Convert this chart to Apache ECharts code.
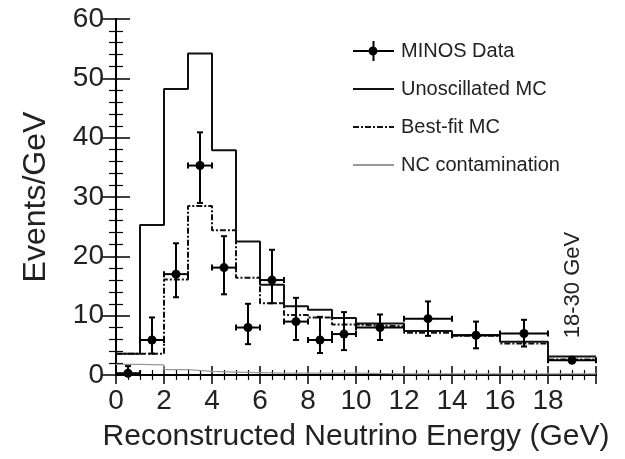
<!DOCTYPE html>
<html>
<head>
<meta charset="utf-8">
<script src="https://cdn.jsdelivr.net/npm/echarts@6/dist/echarts.min.js"></script>
<style>
html,body{margin:0;padding:0;background:#fff;}
#chart{width:625px;height:459px;}
</style>
</head>
<body>
<div id="chart"></div>
<script>
// ---- data ----
var binEdges = [0, 1, 2, 3, 4, 5, 6, 7, 8, 9, 10, 12, 14, 16, 18, 20];
var unoscillatedMC = [3.6, 25.3, 48.2, 54.2, 37.9, 22.5, 15.2, 11.6, 11.0, 9.6, 8.7, 7.4, 6.7, 5.6, 3.1];
var bestFitMC = [3.6, 3.6, 16.1, 28.5, 24.4, 16.4, 12.1, 10.1, 9.7, 8.5, 8.2, 7.1, 6.6, 5.3, 2.6];
var ncContamination = [1.8, 1.7, 0.9, 0.6, 0.5, 0.4, 0.3, 0.3, 0.3, 0.3, 0.2, 0.2, 0.2, 0.2, 0.2];

var dataX = [0.5, 1.5, 2.5, 3.5, 4.5, 5.5, 6.5, 7.5, 8.5, 9.5, 11, 13, 15, 17, 19];
var dataXErr = [0.5, 0.5, 0.5, 0.5, 0.5, 0.5, 0.5, 0.5, 0.5, 0.5, 1, 1, 1, 1, 1];
var dataY = [0.3, 5.9, 17.0, 35.3, 18.1, 8.0, 16.0, 9.0, 5.9, 6.9, 8.0, 9.5, 6.7, 7.0, 2.5];
var dataErrLow = [0.3, 2.3, 3.9, 6.3, 4.5, 2.8, 3.9, 3.1, 2.2, 2.7, 2.1, 2.9, 2.2, 2.2, 0.5];
var dataErrHigh = [1.2, 3.8, 5.2, 5.6, 5.3, 4.0, 5.1, 4.0, 3.9, 3.7, 2.2, 2.9, 2.3, 2.3, 0.5];

var xTickLabels = ['0', '2', '4', '6', '8', '10', '12', '14', '16', '18'];

// ---- build ----
function histo(vals) {
  var out = [];
  for (var i = 0; i < vals.length; i++) out.push([binEdges[i], vals[i]]);
  out.push([binEdges[vals.length], vals[vals.length - 1]]);
  return out;
}
var pts = [];
for (var i = 0; i < dataX.length; i++) {
  pts.push([dataX[i], dataY[i], dataXErr[i], dataErrLow[i], dataErrHigh[i]]);
}

var FONT = 'Liberation Sans, Arial, sans-serif';
var chart = echarts.init(document.getElementById('chart'), null, {renderer: 'canvas'});

var axisCommon = {
  axisLine: {show: true, lineStyle: {color: '#000', width: 2}},
  splitLine: {show: false}
};

var dataIcon = 'path://M0,9L15.5,9L15.5,11L0,11Z M24.5,9L41,9L41,11L24.5,11Z M19.5,0L21.5,0L21.5,5.5L19.5,5.5Z M19.5,14.5L21.5,14.5L21.5,20L19.5,20Z M24.5,10A4.5,4.5 0 1,1 15.5,10A4.5,4.5 0 1,1 24.5,10Z';
var hiddenSym = {color: 'rgba(0,0,0,0)', borderColor: 'rgba(0,0,0,0)', borderWidth: 0};

chart.setOption({
  animation: false,
  backgroundColor: '#fff',
  grid: {left: 116, top: 19, right: 29, bottom: 84},
  legend: {
    orient: 'vertical',
    left: 347,
    top: 36,
    itemWidth: 41,
    itemHeight: 20,
    itemGap: 18,
    textStyle: {fontFamily: FONT, fontSize: 20, color: '#222', padding: [0, 0, 0, 2]},
    data: [
      {name: 'MINOS Data', icon: dataIcon, itemStyle: {color: '#000'}},
      {name: 'Unoscillated MC', itemStyle: hiddenSym},
      {name: 'Best-fit MC', itemStyle: hiddenSym},
      {name: 'NC contamination', itemStyle: hiddenSym}
    ]
  },
  xAxis: [
    Object.assign({
      type: 'value', min: 0, max: 20, interval: 2, position: 'bottom',
      name: 'Reconstructed Neutrino Energy (GeV)',
      nameLocation: 'middle', nameGap: 47,
      nameTextStyle: {fontFamily: FONT, fontSize: 30, color: '#222'},
      axisTick: {show: true, inside: true, length: 9, lineStyle: {color: '#000', width: 1.5}},
      minorTick: {show: true, splitNumber: 4, length: 5, lineStyle: {color: '#000', width: 1.2}},
      axisLabel: {
        fontFamily: FONT, fontSize: 28, color: '#222', margin: 12,
        formatter: function (v) { var k = Math.round(v / 2); return (k < xTickLabels.length && v === k * 2) ? xTickLabels[k] : ''; }
      }
    }, axisCommon),
    Object.assign({
      type: 'value', min: 0, max: 20, interval: 2, position: 'top',
      axisTick: {show: true, inside: true, length: 9, lineStyle: {color: '#000', width: 1.5}},
      minorTick: {show: true, splitNumber: 4, length: 5, lineStyle: {color: '#000', width: 1.2}},
      axisLabel: {show: false}
    }, axisCommon)
  ],
  yAxis: [
    Object.assign({
      type: 'value', min: 0, max: 60, interval: 10, position: 'left',
      name: 'Events/GeV', nameLocation: 'middle', nameGap: 64,
      nameTextStyle: {fontFamily: FONT, fontSize: 32, color: '#222'},
      axisTick: {show: true, inside: true, length: 14, lineStyle: {color: '#000', width: 1.5}},
      minorTick: {show: true, splitNumber: 5, length: 7, lineStyle: {color: '#000', width: 1.2}},
      axisLabel: {fontFamily: FONT, fontSize: 28, color: '#222', margin: 12}
    }, axisCommon),
    Object.assign({
      type: 'value', min: 0, max: 60, interval: 10, position: 'right',
      axisTick: {show: true, inside: true, length: 14, lineStyle: {color: '#000', width: 1.5}},
      minorTick: {show: true, splitNumber: 5, length: 7, lineStyle: {color: '#000', width: 1.2}},
      axisLabel: {show: false}
    }, axisCommon)
  ],
  series: [
    {
      name: 'NC contamination', type: 'line', step: 'end', symbol: 'circle', showSymbol: false,
      data: histo(ncContamination),
      lineStyle: {color: '#999', width: 1.2}, itemStyle: {color: '#999'}, z: 2
    },
    {
      name: 'Best-fit MC', type: 'line', step: 'end', symbol: 'circle', showSymbol: false,
      data: histo(bestFitMC),
      lineStyle: {color: '#111', width: 2, type: [6, 2, 2, 2]}, itemStyle: {color: '#111'}, z: 3
    },
    {
      name: 'Unoscillated MC', type: 'line', step: 'end', symbol: 'circle', showSymbol: false,
      data: histo(unoscillatedMC),
      lineStyle: {color: '#111', width: 2}, itemStyle: {color: '#111'}, z: 4
    },
    {
      name: 'MINOS Data', type: 'custom', z: 5,
      itemStyle: {color: '#000'},
      encode: {x: 0, y: 1},
      data: pts,
      renderItem: function (params, api) {
        var x = api.value(0), y = api.value(1), xe = api.value(2), el = api.value(3), eh = api.value(4);
        var c = api.coord([x, y]);
        var l = api.coord([x - xe, y]);
        var r = api.coord([x + xe, y]);
        var lo = api.coord([x, Math.max(0, y - el)]);
        var hi = api.coord([x, y + eh]);
        var st = {stroke: '#000', lineWidth: 2};
        var cap = 3;
        return {
          type: 'group',
          children: [
            {type: 'line', shape: {x1: l[0], y1: c[1], x2: r[0], y2: c[1]}, style: st},
            {type: 'line', shape: {x1: c[0], y1: lo[1], x2: c[0], y2: hi[1]}, style: st},
            {type: 'line', shape: {x1: c[0] - cap, y1: hi[1], x2: c[0] + cap, y2: hi[1]}, style: st},
            {type: 'line', shape: {x1: c[0] - cap, y1: lo[1], x2: c[0] + cap, y2: lo[1]}, style: st},
            {type: 'line', shape: {x1: l[0], y1: c[1] - cap, x2: l[0], y2: c[1] + cap}, style: st},
            {type: 'line', shape: {x1: r[0], y1: c[1] - cap, x2: r[0], y2: c[1] + cap}, style: st},
            {type: 'circle', shape: {cx: c[0], cy: c[1], r: 4.5}, style: {fill: '#000'}}
          ]
        };
      }
    }
  ],
  graphic: [
    {
      type: 'text', x: 573, y: 285, rotation: Math.PI / 2,
      style: {text: '18-30 GeV', fontFamily: FONT, fontSize: 22, fill: '#222', align: 'center', verticalAlign: 'middle'}
    }
  ]
});
</script>
</body>
</html>
